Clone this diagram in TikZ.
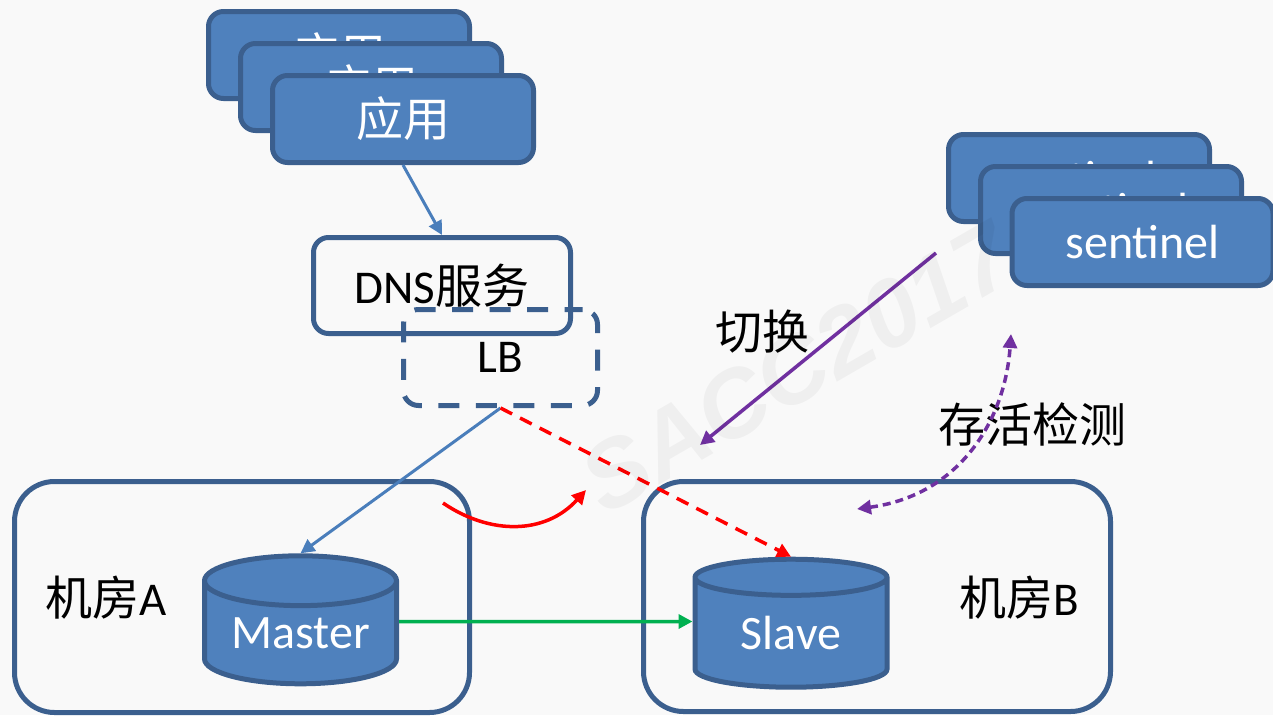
\documentclass[tikz,border=0pt]{standalone}
\usepackage{fontspec}
\usetikzlibrary{shapes.geometric,arrows.meta}
\setmainfont{Carlito}
\newfontfamily\cjk{Noto Sans CJK SC}
\newfontfamily\markfont{Liberation Sans}
\definecolor{bgc}{HTML}{F9F9F9}
\definecolor{fillb}{HTML}{4F81BD}
\definecolor{edgeb}{HTML}{3B5F8E}
\definecolor{lineb}{HTML}{4A7EBB}
\definecolor{purp}{HTML}{7030A0}
\definecolor{grn}{HTML}{00B050}
\tikzset{
  x=1pt,y=-1pt,
  stackbox/.style={draw=edgeb,fill=fillb,line width=5pt,rounded corners=15pt,minimum width=261pt,minimum height=87pt,inner sep=0pt,text=white,font=\fontsize{47}{50}\selectfont},
  sentbox/.style={stackbox,font=\fontsize{48}{50}\selectfont},
  room/.style={draw=edgeb,line width=5pt,rounded corners=40pt,inner sep=0pt},
  db/.style={cylinder,shape border rotate=90,aspect=0.36,draw=edgeb,line width=5pt,cylinder uses custom fill,cylinder body fill=fillb,cylinder end fill=fillb,minimum width=192pt,minimum height=128pt,inner sep=0pt,text=white,font=\fontsize{48}{50}\selectfont},
  lbl/.style={inner sep=0pt,text=black,font=\fontsize{47}{50}\selectfont},
  tip/.style={-{Triangle[length=14pt,width=14pt]}},
  blueline/.style={tip,draw=lineb,line width=3pt},
  redline/.style={tip,draw=red,line width=3.5pt},
  purpline/.style={tip,draw=purp,line width=3.5pt},
  grnline/.style={tip,draw=grn,line width=3.5pt}
}
\begin{document}
\begin{tikzpicture}
\path[use as bounding box,fill=bgc] (0,0) rectangle (1273,715);
% rooms
\node[room,minimum width=455pt,minimum height=231pt] (roomA) at (242,597) {};
\node[room,minimum width=467pt,minimum height=230pt] (roomB) at (877,596.5) {};
% app stack
\node[stackbox] (app1) at (339,55) {\cjk 应用};
\node[stackbox] (app2) at (371,87) {\cjk 应用};
\node[stackbox] (app3) at (403,119) {\cjk 应用};
% sentinel stack
\node[sentbox] (sen1) at (1079,178) {\raisebox{-1pt}{sentinel}};
\node[sentbox] (sen2) at (1111,210) {\raisebox{-1pt}{sentinel}};
\node[sentbox] (sen3) at (1142.5,242) {\raisebox{-1pt}{sentinel}};
% DNS + LB
\node[draw=edgeb,line width=5pt,rounded corners=15pt,minimum width=257pt,minimum height=96pt,inner sep=0pt,lbl] (dns) at (442,285.5) {\raisebox{-2pt}{DNS{\cjk 服务}}};
\node[draw=edgeb,line width=5pt,rounded corners=15pt,dash pattern=on 21pt off 16.5pt,dash phase=3pt,minimum width=194pt,minimum height=96pt,inner sep=0pt,lbl] (lb) at (500.5,357.5) {\raisebox{-1pt}{LB}};
% databases
\node[db] (master) at (300.5,633.5) {\raisebox{-14pt}{Master}};
\node[db] (slave) at (791,633.5) {\raisebox{-14pt}{Slave}};
% labels
\node[lbl] (labA) at (106,598) {{\cjk 机房}A};
\node[lbl] (labB) at (1019,598) {{\cjk 机房}B};
\node[lbl] (labSw) at (762,332) {\cjk 切换};
\node[lbl] (labDet) at (1032,424) {\cjk 存活检测};
% free ends
\coordinate (swS) at (936,253);
\coordinate (swE) at (700,445);
\coordinate (detA) at (1011,334);
\coordinate (detB) at (857,509);
\coordinate (curS) at (443,503);
\coordinate (curE) at (586,490);
% connectors
\draw[blueline] (app3.south) -- (dns.north);
\draw[blueline] (lb.south) -- (master.north);
\draw[redline,dash pattern=on 13pt off 9pt] (lb.south) -- (slave.north);
\draw[redline] (curS) .. controls (490,535) and (545,535) .. (curE);
\draw[grnline] ([yshift=12pt]master.east) -- ([yshift=12pt]slave.west);
\draw[purpline] (swS) -- (swE);
\draw[purpline,{Triangle[length=14pt,width=14pt]}-{Triangle[length=14pt,width=14pt]},dash pattern=on 8pt off 5pt] (detB) .. controls (960,495) and (1005,420) .. (detA);
% watermark
\node[rotate=30,opacity=0.04,text=black,inner sep=0pt,font=\fontsize{95}{100}\markfont\bfseries\itshape] (mark) at (797,368) {SACC2017};
\end{tikzpicture}
\end{document}
